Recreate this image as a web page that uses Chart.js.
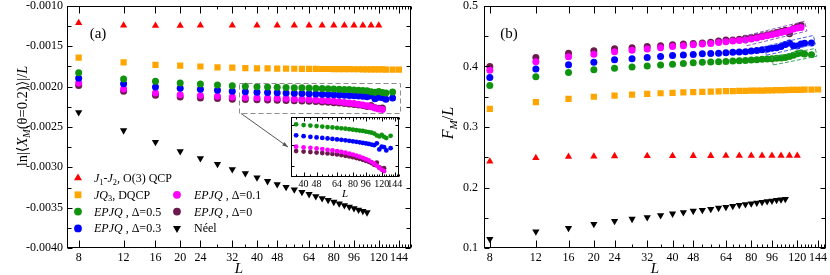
<!DOCTYPE html>
<html>
<head>
<meta charset="utf-8">
<title>ln|&lt;X_M&gt;|/L and F_M/L versus L</title>
<script src="https://cdn.jsdelivr.net/npm/chart.js@4.4.1/dist/chart.umd.min.js"></script>
<style>
  html, body { margin: 0; padding: 0; background: #fff; }
  #wrap { position: relative; width: 830px; height: 275px; overflow: hidden; }
  #wrap canvas { position: absolute; }
</style>
</head>
<body>
<div id="wrap">
  <canvas id="panelA" width="415" height="275" style="left:0;top:0"></canvas>
  <canvas id="panelB" width="415" height="275" style="left:415px;top:0"></canvas>
  <canvas id="inset" width="130" height="95" style="left:280px;top:110px"></canvas>
</div>
<script>
// system sizes L for each model
const L_j1j2 = [8, 12, 16, 20, 24, 32, 40, 48, 56, 64, 72, 80, 88, 96, 104, 112, 120];
const L_jq3 = [8, 12, 16, 20, 24, 28, 32, 36, 40, 44, 48, 52, 56, 60, 64, 68, 72, 76, 80, 84, 88, 92, 96, 100, 104, 108, 112, 116, 120, 124, 128, 136, 144];
const L_epjqA = [8, 12, 16, 20, 24, 28, 32, 36, 40, 44, 48, 52, 56, 60, 64, 68, 72, 76, 80, 84, 88, 92, 96, 100, 104, 108, 112, 116, 120, 124, 128, 136];
const L_epjqB = [8, 12, 16, 20, 24, 28, 32, 36, 40, 44, 48, 52, 56, 60, 64, 68, 72, 76, 80, 84, 88, 92, 96, 100, 104, 108, 112, 116, 120, 124];
const L_neel = [8, 12, 16, 20, 24, 28, 32, 36, 40, 44, 48, 52, 56, 60, 64, 68, 72, 76, 80, 84, 88, 92, 96, 100, 104, 108];

// (a) ln|<X_M(theta=0.2)>|/L
const xm_j1j2 = [-0.00121, -0.00124, -0.001245, -0.001245, -0.00124, -0.00124, -0.00124, -0.00124, -0.00124, -0.00124, -0.00124, -0.00124, -0.00124, -0.00124, -0.00124, -0.00124, -0.00124];
const xm_jq3 = [-0.00164, -0.00170, -0.00173, -0.00174, -0.00175, -0.00176, -0.001765, -0.00177, -0.001772, -0.001774, -0.001776, -0.001777, -0.001778, -0.001779, -0.00178, -0.00178, -0.001781, -0.001781, -0.001782, -0.001782, -0.001783, -0.001783, -0.001784, -0.001784, -0.001785, -0.001785, -0.001786, -0.001786, -0.001787, -0.001787, -0.001788, -0.001789, -0.00179];
const xm_d05 = [-0.001827, -0.001905, -0.001934, -0.001955, -0.001967, -0.001980, -0.001988, -0.001995, -0.002000, -0.002003, -0.002006, -0.002009, -0.002012, -0.002014, -0.002017, -0.002020, -0.002022, -0.002025, -0.002028, -0.002031, -0.002034, -0.002036, -0.002040, -0.002043, -0.002047, -0.002052, -0.002064, -0.002070, -0.002061, -0.002072, -0.002080, -0.002066];
const xm_d03 = [-0.001897, -0.001963, -0.002004, -0.002020, -0.002033, -0.002045, -0.002057, -0.002063, -0.002068, -0.002072, -0.002076, -0.002079, -0.002082, -0.002085, -0.002088, -0.002091, -0.002094, -0.002097, -0.002100, -0.002103, -0.002106, -0.002110, -0.002113, -0.002116, -0.002120, -0.002124, -0.002112, -0.002150, -0.002132, -0.002136, -0.002156, -0.002142];
const xm_d01 = [-0.001955, -0.002028, -0.002078, -0.002100, -0.002111, -0.002120, -0.002128, -0.002133, -0.002137, -0.002140, -0.002144, -0.002148, -0.002152, -0.002156, -0.002160, -0.002165, -0.002170, -0.002176, -0.002182, -0.002188, -0.002195, -0.002202, -0.002210, -0.002218, -0.002228, -0.002238, -0.002250, -0.002264, -0.002276, -0.002284];
const xm_d00 = [-0.001984, -0.002058, -0.002107, -0.002127, -0.002140, -0.002148, -0.002156, -0.002160, -0.002163, -0.002166, -0.002169, -0.002172, -0.002175, -0.002178, -0.002181, -0.002185, -0.002189, -0.002193, -0.002198, -0.002203, -0.002208, -0.002214, -0.002220, -0.002226, -0.002235, -0.002245, -0.002232, -0.002260, -0.002268, -0.002266];
const xm_neel = [-0.002317, -0.002543, -0.002688, -0.002802, -0.002889, -0.002959, -0.003025, -0.003074, -0.003127, -0.003172, -0.003210, -0.003244, -0.003276, -0.003306, -0.003333, -0.003359, -0.003384, -0.003407, -0.003429, -0.003450, -0.003470, -0.003490, -0.003508, -0.003526, -0.003542, -0.003559];

// (b) F_M/L
const fm_j1j2 = [0.243, 0.249, 0.251, 0.2513, 0.252, 0.2522, 0.2523, 0.2524, 0.2524, 0.2525, 0.2525, 0.2525, 0.2525, 0.2525, 0.2525, 0.2525, 0.2525];
const fm_jq3 = [0.330, 0.341, 0.3465, 0.350, 0.352, 0.3535, 0.3548, 0.3558, 0.3565, 0.3572, 0.3578, 0.3582, 0.3586, 0.3589, 0.3592, 0.3594, 0.3596, 0.3598, 0.360, 0.3602, 0.3603, 0.3605, 0.3607, 0.3608, 0.361, 0.3611, 0.3612, 0.3613, 0.3614, 0.3615, 0.3616, 0.3618, 0.362];
const fm_d05 = [0.3685, 0.383, 0.390, 0.3945, 0.397, 0.399, 0.401, 0.4025, 0.4037, 0.405, 0.406, 0.407, 0.4075, 0.408, 0.4083, 0.409, 0.4095, 0.410, 0.4107, 0.4113, 0.412, 0.4125, 0.4128, 0.4135, 0.4142, 0.415, 0.4165, 0.4185, 0.421, 0.4222, 0.4205, 0.4194];
const fm_d03 = [0.382, 0.396, 0.403, 0.407, 0.411, 0.413, 0.415, 0.4165, 0.418, 0.419, 0.420, 0.421, 0.4215, 0.422, 0.4227, 0.4235, 0.424, 0.4245, 0.4255, 0.4265, 0.4275, 0.4285, 0.430, 0.431, 0.433, 0.4365, 0.439, 0.4345, 0.434, 0.437, 0.4385, 0.439];
const fm_d01 = [0.394, 0.408, 0.416, 0.4204, 0.4244, 0.427, 0.429, 0.431, 0.433, 0.4345, 0.436, 0.437, 0.438, 0.4395, 0.441, 0.442, 0.443, 0.444, 0.4455, 0.447, 0.449, 0.451, 0.4526, 0.454, 0.456, 0.458, 0.460, 0.462, 0.4635, 0.4645];
const fm_d00 = [0.400, 0.415, 0.422, 0.426, 0.4293, 0.431, 0.433, 0.4345, 0.436, 0.437, 0.438, 0.439, 0.440, 0.442, 0.4436, 0.444, 0.445, 0.4465, 0.448, 0.449, 0.451, 0.4525, 0.4542, 0.456, 0.458, 0.460, 0.454, 0.463, 0.466, 0.468];
const fm_neel = [0.1147, 0.127, 0.133, 0.1397, 0.1446, 0.148, 0.1508, 0.1541, 0.1567, 0.159, 0.1612, 0.1628, 0.1645, 0.1662, 0.1678, 0.1693, 0.1708, 0.1722, 0.1735, 0.1747, 0.1759, 0.177, 0.1781, 0.1791, 0.1801, 0.181];

// tick labels
const xTickLabels = [8, 12, 16, 20, 24, 32, 40, 48, 64, 80, 96, 120, 144];
const insetTickLabels = [40, 48, 64, 80, 96, 120, 144];
const yTicksA = [-0.004, -0.0035, -0.003, -0.0025, -0.002, -0.0015, -0.001];
const yTicksB = [0.1, 0.2, 0.3, 0.4, 0.5];

// zoomed region of panel (a) and the tails boxed in panel (b)
const zoomBoxL = [34, 145];
const zoomBoxV = [-0.00195, -0.00232];
const tailBoxes = [
  { L: [78, 126], v: [0.4435, 0.4655], h: 5, color: '#8a5cc8' },
  { L: [93, 136], v: [0.427, 0.443], h: 4.5, color: '#3f5fe0' },
  { L: [99, 138], v: [0.410, 0.4224], h: 4, color: '#3da45a' }
];

const FONT = '"Liberation Serif", "DejaVu Serif", serif';
const R = { triangle: 4.2, rect: 4.4, circle: 3.5 };

const series = [
  { key: 'j1j2', L: L_j1j2, a: xm_j1j2, b: fm_j1j2, color: '#ff0000', shape: 'triangle', rot: 0 },
  { key: 'jq3', L: L_jq3, a: xm_jq3, b: fm_jq3, color: '#ffa500', shape: 'rect', rot: 0 },
  { key: 'd05', L: L_epjqA, a: xm_d05, b: fm_d05, color: '#109410', shape: 'circle', rot: 0 },
  { key: 'd03', L: L_epjqA, a: xm_d03, b: fm_d03, color: '#0000ff', shape: 'circle', rot: 0 },
  { key: 'd01', L: L_epjqB, a: xm_d01, b: fm_d01, color: '#ff00ff', shape: 'circle', rot: 0 },
  { key: 'd00', L: L_epjqB, a: xm_d00, b: fm_d00, color: '#6b1a4e', shape: 'circle', rot: 0 },
  { key: 'neel', L: L_neel, a: xm_neel, b: fm_neel, color: '#000000', shape: 'triangle', rot: 180 }
];

const legendItems = [
  { key: 'j1j2', col: 0, row: 0, parts: [{ t: 'J', i: 1 }, { t: '1', sub: 1 }, { t: '-' }, { t: 'J', i: 1 }, { t: '2', sub: 1 }, { t: ', O(3) QCP' }] },
  { key: 'jq3', col: 0, row: 1, parts: [{ t: 'JQ', i: 1 }, { t: '3', sub: 1 }, { t: ', DQCP' }] },
  { key: 'd05', col: 0, row: 2, parts: [{ t: 'EPJQ', i: 1 }, { t: ' , Δ=0.5' }] },
  { key: 'd03', col: 0, row: 3, parts: [{ t: 'EPJQ', i: 1 }, { t: ' , Δ=0.3' }] },
  { key: 'd01', col: 1, row: 1, parts: [{ t: 'EPJQ', i: 1 }, { t: ' , Δ=0.1' }] },
  { key: 'd00', col: 1, row: 2, parts: [{ t: 'EPJQ', i: 1 }, { t: ' , Δ=0' }] },
  { key: 'neel', col: 1, row: 3, parts: [{ t: 'Néel' }] }
];

function datasets(field, keys, scale) {
  return series.filter(s => keys.includes(s.key)).map(s => ({
    label: s.key,
    data: s.L.map((L, i) => ({ x: L, y: s[field][i] })),
    pointStyle: s.shape,
    pointRotation: s.rot,
    pointRadius: R[s.shape] * scale,
    pointBackgroundColor: s.color,
    pointBorderColor: s.color,
    pointBorderWidth: 0
  }));
}

// text with italics and subscripts
function fontOf(p, size) {
  const s = p.sub ? size * 0.7 : size;
  return (p.i ? 'italic ' : '') + s + 'px ' + FONT;
}
function richWidth(ctx, parts, size) {
  let w = 0;
  parts.forEach(p => { ctx.font = fontOf(p, size); w += ctx.measureText(p.t).width; });
  return w;
}
function drawRich(ctx, parts, x, y, size, align) {
  let cx = align === 'center' ? x - richWidth(ctx, parts, size) / 2 : x;
  ctx.textAlign = 'left';
  ctx.textBaseline = 'alphabetic';
  ctx.fillStyle = '#000';
  parts.forEach(p => {
    ctx.font = fontOf(p, size);
    ctx.fillText(p.t, cx, y + (p.sub ? size * 0.22 : 0));
    cx += ctx.measureText(p.t).width;
  });
}

function marker(ctx, s, x, y, r) {
  ctx.fillStyle = s.color;
  ctx.beginPath();
  if (s.shape === 'circle') {
    ctx.arc(x, y, r, 0, Math.PI * 2);
  } else if (s.shape === 'rect') {
    const h = r * Math.SQRT1_2;
    ctx.rect(x - h, y - h, 2 * h, 2 * h);
  } else {
    const d = s.rot ? -1 : 1;
    ctx.moveTo(x, y - d * r);
    ctx.lineTo(x + 0.866 * r, y + d * 0.5 * r);
    ctx.lineTo(x - 0.866 * r, y + d * 0.5 * r);
    ctx.closePath();
  }
  ctx.fill();
}

// inward ticks on all four sides plus the box
function framePlugin(opt) {
  return {
    id: 'frame',
    afterDatasetsDraw(chart) {
      const { ctx, chartArea: a, scales: { x, y } } = chart;
      const l = Math.round(a.left) + 0.5, r = Math.round(a.right) - 0.5;
      const t = Math.round(a.top) + 0.5, b = Math.round(a.bottom) - 0.5;
      ctx.save();
      ctx.strokeStyle = '#000';
      ctx.lineWidth = 1;
      ctx.beginPath();
      for (let v = 4 * Math.ceil(x.min / 4); v <= x.max; v += 4) {
        const p = Math.round(x.getPixelForValue(v)) + 0.5;
        const len = opt.xLabels.includes(v) ? opt.big : opt.small;
        ctx.moveTo(p, b); ctx.lineTo(p, b - len);
        ctx.moveTo(p, t); ctx.lineTo(p, t + len);
      }
      opt.yTicks.forEach(([v, major]) => {
        const p = Math.round(y.getPixelForValue(v)) + 0.5;
        const len = major ? opt.yBig : opt.ySmall;
        ctx.moveTo(l, p); ctx.lineTo(l + len, p);
        ctx.moveTo(r, p); ctx.lineTo(r - len, p);
      });
      ctx.stroke();
      ctx.strokeRect(l, t, r - l, b - t);
      ctx.restore();
    }
  };
}

function panelOptions(o) {
  return {
    responsive: false,
    animation: false,
    devicePixelRatio: 1,
    layout: { padding: o.pad },
    plugins: { legend: { display: false }, tooltip: { enabled: false } },
    scales: {
      x: {
        type: 'logarithmic',
        min: o.xmin,
        max: o.xmax,
        afterBuildTicks: s => { s.ticks = o.xLabels.map(v => ({ value: v })); },
        afterFit: s => { s.height = o.xh; s.paddingLeft = 0; s.paddingRight = 0; },
        grid: { display: false, drawTicks: false },
        border: { display: false },
        ticks: {
          autoSkip: false, maxRotation: 0, padding: o.xpad, color: '#000',
          font: { family: FONT, size: o.xfs },
          callback: v => String(v)
        }
      },
      y: {
        min: o.ymin,
        max: o.ymax,
        afterBuildTicks: s => { s.ticks = o.yLabels.map(v => ({ value: v })); },
        afterFit: s => { s.width = o.yw; s.paddingTop = 0; s.paddingBottom = 0; },
        grid: { display: false, drawTicks: false },
        border: { display: false },
        ticks: {
          display: o.yShow, padding: o.ypad, color: '#000',
          font: { family: FONT, size: 12 },
          callback: v => v.toFixed(o.ydec)
        }
      }
    }
  };
}

function tickList(from, step, n, majorEvery) {
  const out = [];
  for (let k = 0; k <= n; k++) out.push([from + k * step, k % majorEvery === 0]);
  return out;
}

// ---------- inset of panel (a) ----------
const INSET_LEFT = 280, INSET_TOP = 110;
const insetKeys = ['d05', 'd03', 'd01', 'd00'];
const insetChart = new Chart(document.getElementById('inset'), {
  type: 'scatter',
  data: { datasets: datasets('a', insetKeys, 0.68) },
  options: panelOptions({
    pad: { left: 0, right: 11, top: 7, bottom: 0 },
    xmin: 33.5, xmax: 153, xLabels: insetTickLabels, xh: 28, xpad: 1, xfs: 10,
    ymin: zoomBoxV[1], ymax: zoomBoxV[0], yLabels: [], yw: 11, yShow: false, ypad: 0, ydec: 4
  }),
  plugins: [
    {
      id: 'insetBg',
      beforeDatasetsDraw(chart) {
        const { ctx, chartArea: a } = chart;
        ctx.save();
        ctx.fillStyle = '#fff';
        ctx.fillRect(a.left, a.top, a.right - a.left, a.bottom - a.top);
        ctx.restore();
      }
    },
    framePlugin({ xLabels: insetTickLabels, big: 4, small: 2, yBig: 3, ySmall: 3,
      yTicks: [[-0.0020, true], [-0.002125, true], [-0.00225, true]] }),
    {
      id: 'insetTitle',
      afterDraw(chart) {
        const a = chart.chartArea;
        drawRich(chart.ctx, [{ t: 'L', i: 1 }], (a.left + a.right) / 2, a.bottom + 20, 11, 'center');
      }
    }
  ]
});

// ---------- panel (a) ----------
const allKeys = series.map(s => s.key);
new Chart(document.getElementById('panelA'), {
  type: 'scatter',
  data: { datasets: datasets('a', allKeys, 1) },
  options: panelOptions({
    pad: { left: 0, right: 3, top: 6, bottom: 0 },
    xmin: 7.2, xmax: 160, xLabels: xTickLabels, xh: 27, xpad: 3, xfs: 12,
    ymin: -0.004, ymax: -0.001, yLabels: yTicksA, yw: 67, yShow: true, ypad: 4, ydec: 4
  }),
  plugins: [
    framePlugin({ xLabels: xTickLabels, big: 7, small: 3, yBig: 5, ySmall: 4,
      yTicks: tickList(-0.004, 0.00025, 12, 2) }),
    {
      id: 'decorA',
      afterDraw(chart) {
        const { ctx, chartArea: a, scales: { x, y } } = chart;
        ctx.save();
        // dashed zoom box
        const x1 = x.getPixelForValue(zoomBoxL[0]), x2 = x.getPixelForValue(zoomBoxL[1]);
        const y1 = y.getPixelForValue(zoomBoxV[0]), y2 = y.getPixelForValue(zoomBoxV[1]);
        ctx.setLineDash([5, 3]);
        ctx.strokeStyle = '#8c8c8c';
        ctx.lineWidth = 1;
        ctx.strokeRect(Math.round(x1) + 0.5, Math.round(y1) + 0.5, Math.round(x2 - x1), Math.round(y2 - y1));
        ctx.setLineDash([]);
        // arrow to the inset
        const ia = insetChart.chartArea;
        const ex = INSET_LEFT + ia.left - 3, ey = INSET_TOP + (ia.top + ia.bottom) / 2;
        const sx = x1 + 2, sy = y2 + 1;
        ctx.strokeStyle = '#555';
        ctx.beginPath(); ctx.moveTo(sx, sy); ctx.lineTo(ex, ey); ctx.stroke();
        const ang = Math.atan2(ey - sy, ex - sx);
        ctx.fillStyle = '#555';
        ctx.beginPath();
        ctx.moveTo(ex, ey);
        ctx.lineTo(ex - 6 * Math.cos(ang - 0.35), ey - 6 * Math.sin(ang - 0.35));
        ctx.lineTo(ex - 6 * Math.cos(ang + 0.35), ey - 6 * Math.sin(ang + 0.35));
        ctx.closePath(); ctx.fill();

        // legend
        legendItems.forEach(it => {
          const s = series.find(q => q.key === it.key);
          const mx = a.left + (it.col ? 110 : 11);
          const tx = a.left + (it.col ? 127 : 27);
          const my = a.bottom - 70 + it.row * 16.8;
          marker(ctx, s, mx, my, R[s.shape] + 0.4);
          drawRich(ctx, it.parts, tx, my + 4, 12, 'left');
        });

        // panel label and axis titles
        drawRich(ctx, [{ t: '(a)' }], a.left + 31, a.top + 32, 15, 'center');
        drawRich(ctx, [{ t: 'L', i: 1 }], (a.left + a.right) / 2, a.bottom + 25, 15, 'center');
        ctx.translate(a.left - 45, (a.top + a.bottom) / 2 - 11);
        ctx.rotate(-Math.PI / 2);
        drawRich(ctx, [{ t: 'ln|⟨' }, { t: 'X', i: 1 }, { t: 'M', i: 1, sub: 1 }, { t: '(θ=0.2)⟩|/' }, { t: 'L', i: 1 }], 0, 5, 14.5, 'center');
        ctx.restore();
      }
    }
  ]
});

// ---------- panel (b) ----------
new Chart(document.getElementById('panelB'), {
  type: 'scatter',
  data: { datasets: datasets('b', allKeys, 1) },
  options: panelOptions({
    pad: { left: 0, right: 2, top: 6, bottom: 0 },
    xmin: 7.6, xmax: 154, xLabels: xTickLabels, xh: 27, xpad: 3, xfs: 12,
    ymin: 0.1, ymax: 0.5, yLabels: yTicksB, yw: 69, yShow: true, ypad: 6, ydec: 1
  }),
  plugins: [
    framePlugin({ xLabels: xTickLabels, big: 7, small: 3, yBig: 5, ySmall: 4,
      yTicks: tickList(0.1, 0.05, 8, 2) }),
    {
      id: 'decorB',
      afterDraw(chart) {
        const { ctx, chartArea: a, scales: { x, y } } = chart;
        ctx.save();
        ctx.setLineDash([4, 2]);
        ctx.lineWidth = 1;
        tailBoxes.forEach(bx => {
          const p1 = { x: x.getPixelForValue(bx.L[0]), y: y.getPixelForValue(bx.v[0]) };
          const p2 = { x: x.getPixelForValue(bx.L[1]), y: y.getPixelForValue(bx.v[1]) };
          const len = Math.hypot(p2.x - p1.x, p2.y - p1.y);
          const dx = (p2.x - p1.x) / len, dy = (p2.y - p1.y) / len;
          const nx = -dy * bx.h, ny = dx * bx.h;
          const ax = p1.x - dx * 3, ay = p1.y - dy * 3, bx2 = p2.x + dx * 3, by2 = p2.y + dy * 3;
          ctx.strokeStyle = bx.color;
          ctx.beginPath();
          ctx.moveTo(ax + nx, ay + ny);
          ctx.lineTo(bx2 + nx, by2 + ny);
          ctx.lineTo(bx2 - nx, by2 - ny);
          ctx.lineTo(ax - nx, ay - ny);
          ctx.closePath();
          ctx.stroke();
        });
        ctx.setLineDash([]);
        drawRich(ctx, [{ t: '(b)' }], a.left + 25, a.top + 32, 15, 'center');
        drawRich(ctx, [{ t: 'L', i: 1 }], (a.left + a.right) / 2, a.bottom + 25, 15, 'center');
        ctx.translate(a.left - 36, (a.top + a.bottom) / 2 - 4);
        ctx.rotate(-Math.PI / 2);
        drawRich(ctx, [{ t: 'F', i: 1 }, { t: 'M', i: 1, sub: 1 }, { t: '/' }, { t: 'L', i: 1 }], 0, 5, 16, 'center');
        ctx.restore();
      }
    }
  ]
});
</script>
</body>
</html>
